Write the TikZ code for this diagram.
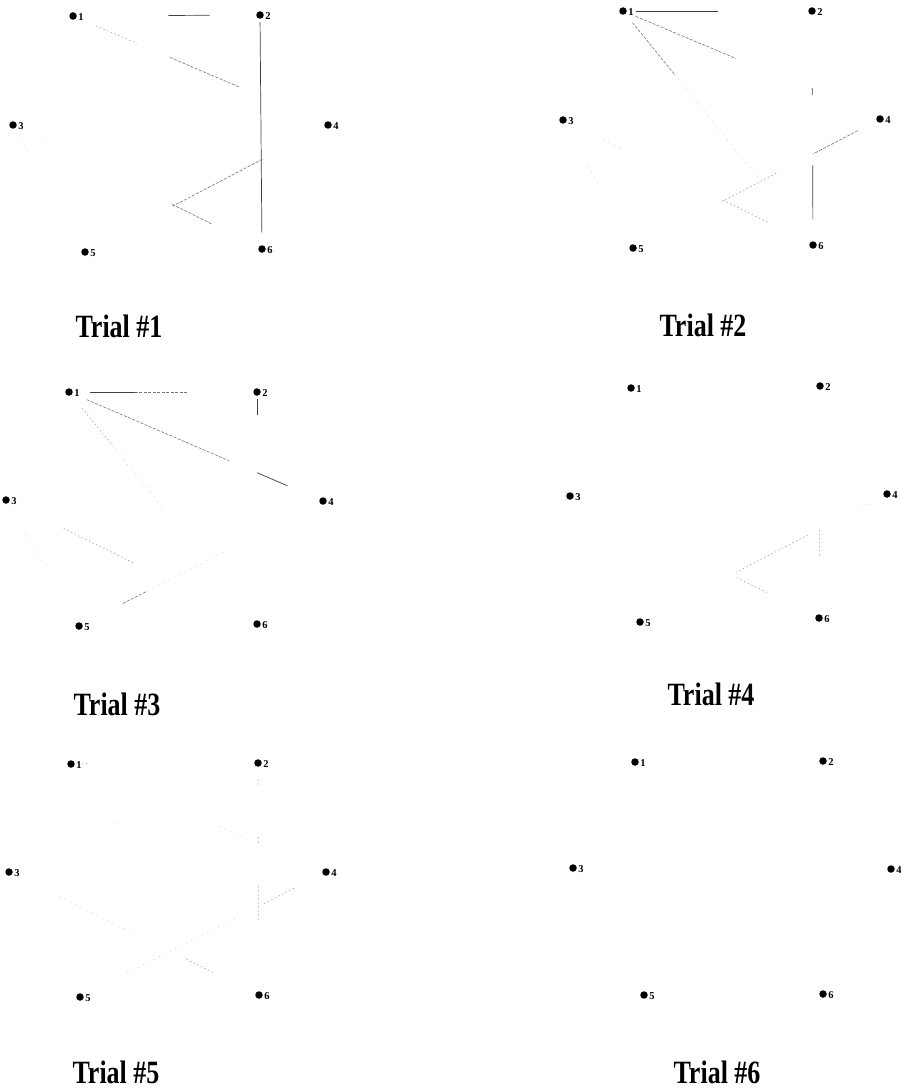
\documentclass[tikz,border=0pt]{standalone}
\usepackage{fontspec}
\setmainfont{Liberation Serif}
\usetikzlibrary{calc}
\tikzset{
  dot/.style={circle, fill=black, inner sep=0pt, minimum size=7.5pt},
  lbl/.style={font=\fontsize{10.5}{10.5}\selectfont\bfseries, inner sep=0pt, label distance=1.2pt, yshift=-1.5pt},
  trialcap/.style={font=\fontsize{26}{30}\selectfont\bfseries, inner sep=0pt, anchor=base},
  edark/.style={black!75, line width=0.7pt},
  emid/.style={black!55, line width=0.6pt, dash pattern=on 3pt off 1.5pt},
  efaint/.style={black!40, line width=0.5pt, dash pattern=on 1.5pt off 2.5pt},
  evfaint/.style={black!22, line width=0.5pt, dash pattern=on 1pt off 5pt},
}
\newcommand\partedge[5]{\draw[#1] ($(#2)!#4!(#3)$) -- ($(#2)!#5!(#3)$);}
\newcommand\sixnodes[7]{%
  \node[dot, label={[lbl]right:1}] (#1n1) at #2 {};
  \node[dot, label={[lbl]right:2}] (#1n2) at #3 {};
  \node[dot, label={[lbl]right:3}] (#1n3) at #4 {};
  \node[dot, label={[lbl]right:4}] (#1n4) at #5 {};
  \node[dot, label={[lbl]right:5}] (#1n5) at #6 {};
  \node[dot, label={[lbl]right:6}] (#1n6) at #7 {};
}
\begin{document}
\begin{tikzpicture}[x=1pt, y=-1pt]
\useasboundingbox (0,0) rectangle (901,1089);

% ---------- Trial 1 ----------
\sixnodes{a}{(73,16)}{(260,15)}{(13,125)}{(328,125)}{(85,252)}{(262,249)}
\partedge{edark}{an1}{an2}{0.51}{0.73}
\partedge{efaint}{an1}{an4}{0.09}{0.25}
\partedge{emid}{an1}{an4}{0.38}{0.65}
\partedge{edark}{an2}{an6}{0.03}{0.93}
\partedge{emid}{an4}{an5}{0.27}{0.64}
\partedge{emid}{an3}{an6}{0.64}{0.80}
\partedge{evfaint}{an3}{an5}{0.12}{0.24}
\partedge{evfaint}{an3}{an6}{0.13}{0.17}
\node[trialcap] (t1) at (119,337) {\scalebox{1}[1.25]{Trial \#1}};

% ---------- Trial 2 ----------
\sixnodes{b}{(623,11)}{(812,11)}{(563,120)}{(880,119)}{(633,248)}{(813,245)}
\partedge{edark}{bn1}{bn2}{0.07}{0.50}
\partedge{emid}{bn1}{bn4}{0.05}{0.44}
\partedge{emid}{bn1}{bn6}{0.05}{0.27}
\partedge{evfaint}{bn1}{bn6}{0.27}{0.72}
\partedge{edark}{bn2}{bn6}{0.33}{0.36}
\partedge{edark}{bn2}{bn6}{0.66}{0.89}
\partedge{emid}{bn4}{bn5}{0.09}{0.27}
\partedge{efaint}{bn4}{bn5}{0.42}{0.64}
\partedge{efaint}{bn3}{bn6}{0.64}{0.82}
\partedge{evfaint}{bn3}{bn6}{0.16}{0.24}
\partedge{evfaint}{bn3}{bn5}{0.36}{0.49}
\node[trialcap] (t2) at (703,336) {\scalebox{1}[1.25]{Trial \#2}};

% ---------- Trial 3 ----------
\sixnodes{c}{(69,392)}{(257,392)}{(6,500)}{(323,501)}{(79,626)}{(257,624)}
\partedge{edark}{cn1}{cn2}{0.11}{0.35}
\partedge{emid}{cn1}{cn2}{0.35}{0.63}
\partedge{emid}{cn1}{cn4}{0.07}{0.63}
\partedge{edark}{cn1}{cn4}{0.74}{0.86}
\partedge{edark}{cn2}{cn6}{0.03}{0.10}
\partedge{efaint}{cn1}{cn6}{0.07}{0.23}
\partedge{evfaint}{cn1}{cn6}{0.23}{0.50}
\partedge{efaint}{cn3}{cn6}{0.23}{0.51}
\partedge{evfaint}{cn3}{cn5}{0.27}{0.51}
\partedge{emid}{cn5}{cn4}{0.18}{0.28}
\partedge{evfaint}{cn5}{cn4}{0.28}{0.60}
\node[trialcap] (t3) at (117,715) {\scalebox{1}[1.25]{Trial \#3}};

% ---------- Trial 4 ----------
\sixnodes{d}{(631,388)}{(820,386)}{(570,496)}{(887,494)}{(640,622)}{(819,618)}
\partedge{efaint}{dn2}{dn6}{0.62}{0.73}
\partedge{efaint}{dn4}{dn5}{0.32}{0.61}
\partedge{evfaint}{dn4}{dn5}{0.08}{0.11}
\partedge{efaint}{dn3}{dn6}{0.67}{0.80}
\node[trialcap] (t4) at (711,705) {\scalebox{1}[1.25]{Trial \#4}};

% ---------- Trial 5 ----------
\sixnodes{e}{(71,764)}{(258,763)}{(9,872)}{(326,872)}{(80,997)}{(259,995)}
\partedge{efaint}{en1}{en2}{0.06}{0.10}
\partedge{efaint}{en2}{en6}{0.07}{0.10}
\partedge{efaint}{en2}{en6}{0.32}{0.35}
\partedge{efaint}{en2}{en6}{0.53}{0.68}
\partedge{efaint}{en4}{en5}{0.13}{0.26}
\partedge{evfaint}{en4}{en5}{0.37}{0.82}
\partedge{evfaint}{en3}{en6}{0.20}{0.50}
\partedge{efaint}{en3}{en6}{0.71}{0.82}
\partedge{evfaint}{en1}{en4}{0.58}{0.68}
\partedge{evfaint}{en1}{en6}{0.25}{0.27}
\node[trialcap] (t5) at (116,1083) {\scalebox{1}[1.25]{Trial \#5}};

% ---------- Trial 6 ----------
\sixnodes{f}{(635,762)}{(823,761)}{(573,868)}{(891,869)}{(644,995)}{(823,994)}
\node[trialcap] (t6) at (717,1083) {\scalebox{1}[1.25]{Trial \#6}};
\end{tikzpicture}
\end{document}
